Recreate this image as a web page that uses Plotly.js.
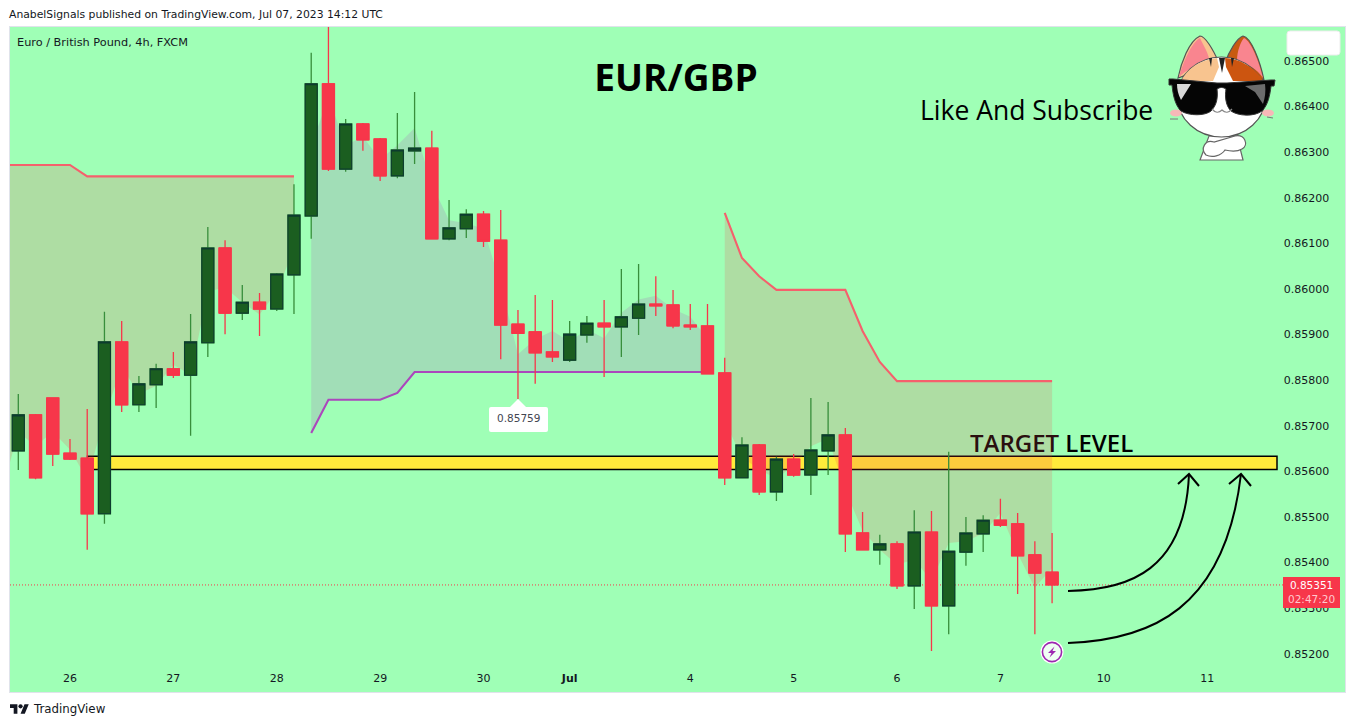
<!DOCTYPE html>
<html>
<head>
<meta charset="utf-8">
<script src="https://cdn.plot.ly/plotly-3.0.1.min.js"></script>
<style>html,body{margin:0;padding:0;background:#fff}#chart{width:1355px;height:727px}</style>
</head>
<body>
<div id="chart"></div>
<script>
// Candles, 4h EUR/GBP
const candleIdx = [0,1,2,3,4,5,6,7,8,9,10,11,12,13,14,15,16,17,18,19,20,21,22,23,24,25,26,27,28,29,30,31,32,33,34,35,36,37,38,39,40,41,42,43,44,45,46,47,48,49,50,51,52,53,54,55,56,57,58,59,60];
const opens = [.85645,.85724,.85761,.85640,.85629,.85507,.85884,.85746,.85790,.85825,.85811,.85882,.86090,.85947,.85971,.85956,.86031,.86160,.86450,.86263,.86362,.86329,.86248,.86303,.86309,.86110,.86132,.86164,.86107,.85923,.85906,.85862,.85844,.85899,.85925,.85917,.85936,.85967,.85965,.85921,.85919,.85816,.85586,.85658,.85555,.85627,.85592,.85645,.85680,.85465,.85428,.85441,.85349,.85467,.85305,.85423,.85463,.85493,.85485,.85417,.85379];
const highs = [.85770,.85726,.85761,.85671,.85737,.85950,.85930,.85809,.85836,.85862,.85945,.86136,.86107,.86009,.85991,.86035,.86230,.86518,.86590,.86373,.86364,.86331,.86386,.86432,.86347,.86195,.86175,.86171,.86173,.85954,.85987,.85976,.85930,.85941,.85976,.86044,.86055,.86028,.85998,.85967,.85967,.85849,.85675,.85660,.85632,.85638,.85761,.85752,.85695,.85511,.85461,.85447,.85515,.85513,.85643,.85500,.85504,.85540,.85509,.85447,.85465];
const lows = [.85603,.85583,.85612,.85625,.85428,.85485,.85730,.85730,.85739,.85805,.85678,.85851,.85901,.85932,.85897,.85952,.85945,.86110,.86259,.86257,.86303,.86237,.86243,.86274,.86110,.86107,.86112,.86092,.85846,.85759,.85792,.85840,.85840,.85882,.85807,.85851,.85899,.85941,.85914,.85910,.85814,.85570,.85586,.85548,.85535,.85588,.85548,.85592,.85423,.85428,.85395,.85342,.85298,.85206,.85243,.85393,.85423,.85478,.85331,.85243,.85311];
const closes = [.85724,.85586,.85638,.85627,.85507,.85884,.85746,.85792,.85825,.85811,.85884,.86090,.85947,.85971,.85956,.86033,.86162,.86450,.86263,.86362,.86327,.86248,.86305,.86309,.86110,.86134,.86164,.86105,.85921,.85903,.85860,.85851,.85901,.85925,.85917,.85939,.85967,.85963,.85919,.85917,.85814,.85586,.85658,.85555,.85627,.85592,.85647,.85680,.85463,.85428,.85441,.85349,.85467,.85305,.85425,.85465,.85493,.85482,.85415,.85377,.85351];

// Indicator: trend line and the mid price it shades against
const midIdx1 = [-1,0,1,2,3,4,5,6,7,8,9,10,11,12,13,14,15,16];
const mid1 = [.85548,.85687,.85655,.85687,.85648,.85583,.85718,.85830,.85770,.85788,.85834,.85812,.85994,.86004,.85971,.85944,.85994,.86088];
const redLine1 = [.86272,.86272,.86272,.86272,.86272,.86247,.86247,.86247,.86247,.86247,.86247,.86247,.86247,.86247,.86247,.86247,.86247,.86247];
const midIdx2 = [17,18,19,20,21,22,23,24,25,26,27,28,29,30,31,32,33,34,35,36,37,38,39,40];
const mid2 = [.86314,.86420,.86315,.86334,.86284,.86315,.86353,.86229,.86151,.86144,.86132,.86010,.85857,.85890,.85908,.85885,.85912,.85892,.85948,.85977,.85985,.85956,.85939,.85891];
const purpleLine = [.85684,.85757,.85757,.85757,.85757,.85772,.85818,.85818,.85818,.85818,.85818,.85818,.85818,.85818,.85818,.85818,.85818,.85818,.85818,.85818,.85818,.85818,.85818,.85818];
const midIdx3 = [41,42,43,44,45,46,47,48,49,50,51,52,53,54,55,56,57,58,59,60];
const mid3 = [.85710,.85631,.85604,.85584,.85613,.85655,.85672,.85559,.85470,.85428,.85395,.85407,.85360,.85443,.85447,.85464,.85509,.85420,.85345,.85388];
const redLine2 = [.86167,.86068,.86028,.85998,.85998,.85998,.85998,.85998,.85908,.85840,.85798,.85798,.85798,.85798,.85798,.85798,.85798,.85798,.85798,.85798];

const targetBand = [.85604, .85633];
const lastPrice = .85351;

const dayTicks = [3,9,15,21,27,32,39,45,51,57,63,69];
const dayLabels = ['26','27','28','29','30','<b>Jul</b>','4','5','6','7','10','11'];

const FONT = 'DejaVu Sans, sans-serif';
const BG = '#9FFFB6';
const xRange = [-0.482, 77.0];
const yRange = [0.851162, 0.865746];

// Pixel helpers for the hand drawn annotations
const PL = 10, PR = 1345, PT = 27, PB = 692;
const px = x => (x - PL) / (PR - PL);
const py = y => (PB - y) / (PB - PT);
const pt = (x, y) => px(x) + ',' + py(y);

function shade(xs, top, bottom, color) {
    return {
        x: xs.concat(xs.slice().reverse()),
        y: top.concat(bottom.slice().reverse()),
        type: 'scatter', mode: 'lines', fill: 'toself', fillcolor: color,
        line: {width: 0}, hoverinfo: 'skip'
    };
}
function trendLine(xs, ys, color) {
    return {x: xs, y: ys, type: 'scatter', mode: 'lines', line: {color: color, width: 2.1}, hoverinfo: 'skip'};
}
function label(x, y, text, size, color, anchor, extra) {
    return Object.assign({
        xref: 'paper', yref: 'paper', x: px(x), y: py(y), text: text, showarrow: false,
        xanchor: anchor || 'left', yanchor: 'middle',
        font: {family: FONT, size: size, color: color}
    }, extra || {});
}
function roundRect(x0, y0, x1, y1, r) {
    return 'M' + pt(x0 + r, y0) + ' L' + pt(x1 - r, y0) + ' Q' + pt(x1, y0) + ' ' + pt(x1, y0 + r) +
        ' L' + pt(x1, y1 - r) + ' Q' + pt(x1, y1) + ' ' + pt(x1 - r, y1) +
        ' L' + pt(x0 + r, y1) + ' Q' + pt(x0, y1) + ' ' + pt(x0, y1 - r) +
        ' L' + pt(x0, y0 + r) + ' Q' + pt(x0, y0) + ' ' + pt(x0 + r, y0) + ' Z';
}
function svgUri(body, vb) {
    return 'data:image/svg+xml;utf8,' + encodeURIComponent(
        '<svg xmlns="http://www.w3.org/2000/svg" viewBox="' + vb + '">' + body + '</svg>');
}
function image(src, x0, y0, x1, y1) {
    return {
        source: src, xref: 'paper', yref: 'paper', x: px(x0), y: py(y0),
        sizex: px(x1) - px(x0), sizey: py(y0) - py(y1),
        xanchor: 'left', yanchor: 'top', sizing: 'stretch', layer: 'above'
    };
}

const catSvg = `
<path d="M33 127 L42 103 L70 103 L76 127 Z" fill="#fff" stroke="#666" stroke-width="1.2"/>
<path d="M39 122 C33 116 38 106 47 109 L68 103 C78 101 82 112 75 116 C70 119 62 118 58 117 C54 123 45 125 39 122 Z" fill="#fff" stroke="#666" stroke-width="1.2"/>
<path d="M11 45 C14 30 22 8 33 3 C38 3 46 16 52 30 Z" fill="#F8C48F" stroke="#555" stroke-width="1.2"/>
<path d="M12 44 C16 30 24 10 33 5 C36 12 42 20 43 31 C30 32 20 36 12 44 Z" fill="#F9858F"/>
<path d="M58 30 C62 18 70 5 76 3 C84 4 93 28 97 47 Z" fill="#C85A10" stroke="#555" stroke-width="1.2"/>
<path d="M70 28 C70 18 74 8 77 5 C84 8 92 28 96 45 C90 36 80 30 70 28 Z" fill="#F9858F"/>
<ellipse cx="54.5" cy="64" rx="44" ry="40" fill="#fff" stroke="#555" stroke-width="1.2"/>
<path d="M14 48 C20 36 32 27 50 25 L52 34 L46 48 Z" fill="#F8C48F"/>
<path d="M58 25 C74 26 90 36 96 48 L66 48 L59 34 Z" fill="#CC5510"/>
<path d="M52 25 L58 25 L55 40 Z M42 25 L45 25 L44 34 Z M64 25 L67 25 L65 34 Z" fill="#222"/>
<ellipse cx="9" cy="80" rx="6" ry="3.5" fill="#F7B8B8"/>
<ellipse cx="101" cy="80" rx="6" ry="3.5" fill="#F7B8B8"/>
<path d="M3 86 L11 86 M100 84 L106 85" stroke="#777" stroke-width="1"/>
<path d="M2 46 L6 46 L50 50 L60 50 L104 47 L108 47 L107 53 L104 53 C103 62 101 72 95 78 C87 84 71 83 64 78 C58 72 58 62 59 56 C56 54 53 54 50 56 C51 64 50 72 44 78 C38 83 22 83 14 78 C8 72 6 62 5 52 L2 52 Z" fill="#050505" stroke="#333" stroke-width="1"/>
<path d="M10 51 L24 51 L14 67 C11 61 10 56 10 51 Z" fill="#fff" opacity=".85"/>
<path d="M78 53 L98 51 C99 58 98 65 96 71 L88 59 Z" fill="#999" opacity=".7"/>
<path d="M45 76 Q50 82 55 77 Q60 82 65 76" fill="none" stroke="#888" stroke-width="1.2"/>`;

const boltSvg = `
<circle cx="12" cy="12" r="11.5" fill="#fff"/>
<circle cx="12" cy="12" r="9.6" fill="#EFFFF3" stroke="#9C27B0" stroke-width="1.6"/>
<path d="M14.5 6.5 L8 13 H11.5 L9.5 17.5 L16 11 H12.5 Z" fill="#9C27B0"/>`;

const tvLogoSvg = `<path d="M14 22H7V11H0V4h14v18zM28 22h-8l7.5-18h8L28 22z" fill="#131722"/><circle cx="20" cy="8" r="4" fill="#131722"/>`;

const arrowPaths = [
    'M' + pt(1068, 591) + ' C' + pt(1130, 590) + ' ' + pt(1185, 570) + ' ' + pt(1189, 474),
    'M' + pt(1178, 484) + ' L' + pt(1189, 474) + ' L' + pt(1199, 486),
    'M' + pt(1068, 643) + ' C' + pt(1150, 640) + ' ' + pt(1225, 610) + ' ' + pt(1241, 474),
    'M' + pt(1229, 484) + ' L' + pt(1241, 474) + ' L' + pt(1251, 486)
];

const traces = [
    shade(midIdx1, redLine1, mid1, 'rgba(247,54,74,0.17)'),
    shade(midIdx2, purpleLine, mid2, 'rgba(171,71,188,0.18)'),
    shade(midIdx3, redLine2, mid3, 'rgba(247,54,74,0.17)'),
    trendLine(midIdx1, redLine1, '#F5606C'),
    trendLine(midIdx2, purpleLine, '#AB47BC'),
    trendLine(midIdx3, redLine2, '#F5606C'),
    // wicks
    {
        x: candleIdx, open: opens, high: highs, low: lows, close: closes,
        type: 'candlestick', xaxis: 'x2', yaxis: 'y2', whiskerwidth: 0, hoverinfo: 'skip',
        increasing: {line: {color: '#388E3C', width: 1.3}, fillcolor: '#1B5E20'},
        decreasing: {line: {color: '#F7364A', width: 1.3}, fillcolor: '#F7364A'}
    },
    // bodies, high and low clipped to the body so the border stays dark
    {
        x: candleIdx, open: opens, close: closes,
        high: opens.map((o, i) => Math.max(o, closes[i])),
        low: opens.map((o, i) => Math.min(o, closes[i])),
        type: 'candlestick', xaxis: 'x2', yaxis: 'y2', whiskerwidth: 0, hoverinfo: 'skip',
        increasing: {line: {color: '#0C3B2E', width: 1.1}, fillcolor: '#1B5E20'},
        decreasing: {line: {color: '#F7364A', width: 1}, fillcolor: '#F7364A'}
    }
];

const layout = {
    width: 1355, height: 727,
    margin: {l: PL, r: 1355 - PR, t: PT, b: 727 - PB, pad: 0},
    paper_bgcolor: '#fff', plot_bgcolor: BG,
    showlegend: false,
    boxmode: 'overlay', boxgap: 0, boxgroupgap: 0.3,
    font: {family: FONT, color: '#131722'},
    title: {
        text: '<b>EUR/GBP</b>', x: 676 / 1355, y: 1 - 78 / 727, xanchor: 'center', yanchor: 'middle',
        font: {family: 'Open Sans, sans-serif', size: 37, color: '#000'}
    },
    xaxis: {
        range: xRange, tickmode: 'array', tickvals: dayTicks, ticktext: dayLabels,
        ticks: '', showgrid: false, zeroline: false, showline: true, mirror: true, linecolor: '#E0E3EB',
        ticklabelposition: 'inside', ticklabelstandoff: 7, fixedrange: true,
        tickfont: {family: FONT, size: 11, color: '#131722'}
    },
    yaxis: {
        range: yRange, side: 'right', tick0: 0.852, dtick: 0.001, tickformat: '.5f',
        ticks: '', showgrid: false, zeroline: false, showline: true, mirror: true, linecolor: '#E0E3EB',
        ticklabelposition: 'inside', ticklabelstandoff: 15, fixedrange: true,
        tickfont: {family: FONT, size: 11, color: '#131722'}
    },
    xaxis2: {range: xRange, overlaying: 'x', visible: false, rangeslider: {visible: false}, fixedrange: true},
    yaxis2: {range: yRange, overlaying: 'y', side: 'right', visible: false, fixedrange: true},
    shapes: [
        {type: 'rect', xref: 'paper', yref: 'y', x0: px(87.5), x1: px(1277), y0: targetBand[0], y1: targetBand[1],
            fillcolor: '#FFEB3B', line: {color: '#000', width: 1.5}, layer: 'below'},
        {type: 'line', xref: 'paper', yref: 'y', x0: 0, x1: px(1283), y0: lastPrice, y1: lastPrice,
            line: {color: '#F7364A', width: 1, dash: '1px,2px'}, layer: 'below'},
        {type: 'path', xref: 'paper', yref: 'paper', path: roundRect(1287, 31, 1340, 55, 3),
            fillcolor: '#fff', line: {color: '#EDEDED', width: 1}, layer: 'above'},
        {type: 'path', xref: 'paper', yref: 'paper',
            path: 'M' + pt(510, 407) + ' L' + pt(518, 399) + ' L' + pt(526, 407) + ' Z',
            fillcolor: '#fff', line: {width: 0}, layer: 'above'},
        {type: 'path', xref: 'paper', yref: 'paper', path: roundRect(489, 407, 548, 432, 2),
            fillcolor: '#fff', line: {width: 0}, layer: 'above'},
        {type: 'rect', xref: 'paper', yref: 'paper', x0: px(1283), x1: px(1340), y0: py(608), y1: py(577),
            fillcolor: '#F7364A', line: {width: 0}, layer: 'above'}
    ].concat(arrowPaths.map(p => ({
        type: 'path', xref: 'paper', yref: 'paper', path: p,
        line: {color: '#000', width: 2}, layer: 'above'
    }))),
    images: [
        image(svgUri(catSvg, '0 0 110 130'), 1167, 33, 1277, 163),
        image(svgUri(boltSvg, '0 0 24 24'), 1040, 640, 1064, 664),
        image(svgUri(tvLogoSvg, '0 0 36 28'), 10, 702, 29, 717)
    ],
    annotations: [
        label(7, 14, 'AnabelSignals published on TradingView.com, Jul 07, 2023 14:12 UTC', 10.8, '#131722'),
        label(15, 42, 'Euro / British Pound, 4h, FXCM', 11.3, '#131722'),
        label(918, 110, 'Like And Subscribe', 26.5, '#000', 'left', {font: {family: 'Open Sans, sans-serif', size: 26.5, color: '#000'}}),
        label(968, 442, '<span style="color:#2A0F0F">TARGET</span> LEVEL', 24, '#000', 'left',
            {font: {family: 'Open Sans, sans-serif', size: 24, color: '#000', weight: 600}}),
        label(518.5, 418, '0.85759', 10.5, '#434651', 'center'),
        label(1311, 592, '0.85351<br><span style="color:#FFC9CE">02:47:20</span>', 10.5, '#fff', 'center'),
        label(31, 709, 'TradingView', 11.8, '#131722')
    ]
};

Plotly.newPlot('chart', traces, layout, {displayModeBar: false, staticPlot: true});
</script>
</body>
</html>
